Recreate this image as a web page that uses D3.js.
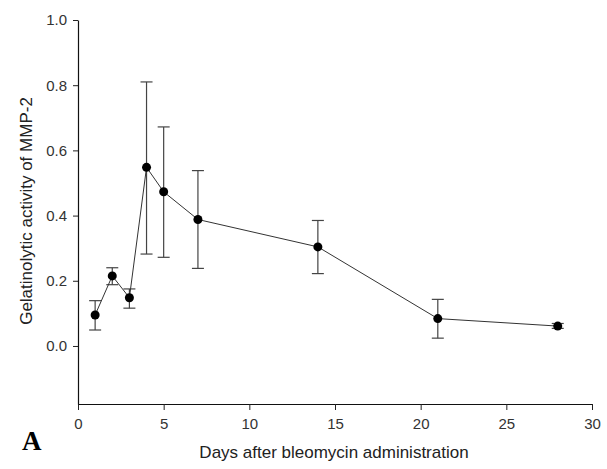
<!DOCTYPE html>
<html>
<head>
<meta charset="utf-8">
<script src="https://cdn.jsdelivr.net/npm/d3@7"></script>
<style>
  body { margin: 0; background: #fff; }
  text { font-family: "Liberation Sans", Arial, sans-serif; }
</style>
</head>
<body>
<svg id="chart" width="607" height="469"></svg>
<script>
const days = [1, 2, 3, 4, 5, 7, 14, 21, 28];
const activity = [0.095, 0.215, 0.148, 0.548, 0.473, 0.388, 0.304, 0.084, 0.061];
const errHigh = [0.139, 0.240, 0.175, 0.810, 0.672, 0.538, 0.385, 0.143, 0.069];
const errLow = [0.049, 0.188, 0.116, 0.282, 0.272, 0.238, 0.222, 0.024, 0.054];
const xTicks = [0, 5, 10, 15, 20, 25, 30];
const yTicks = [0.0, 0.2, 0.4, 0.6, 0.8, 1.0];

const svg = d3.select("#chart");

const x = d3.scaleLinear().domain([0, 30]).range([78, 592]);
const y = d3.scaleLinear().domain([-0.178, 1.0]).range([404, 20]);

const points = days.map((d, i) => ({
  day: d, value: activity[i], hi: errHigh[i], lo: errLow[i]
}));

// axes
const xAxis = svg.append("g")
  .attr("transform", `translate(0,${y(-0.178)})`)
  .call(d3.axisBottom(x).tickValues(xTicks).tickSize(6).tickSizeOuter(0).tickPadding(8));
const yAxis = svg.append("g")
  .attr("transform", `translate(${x(0)},0)`)
  .call(d3.axisLeft(y).tickValues(yTicks).tickFormat(d3.format(".1f")).tickSize(5).tickSizeOuter(0).tickPadding(6));

[xAxis, yAxis].forEach(g => {
  g.select(".domain").attr("stroke", "#111").attr("stroke-width", 1.2);
  g.selectAll(".tick line").attr("stroke", "#222");
  g.selectAll(".tick text").attr("fill", "#333").style("font-size", "15px");
});

// error bars
const capHalf = 6;
const bars = svg.append("g").attr("stroke", "#444").attr("stroke-width", 1.2);
bars.selectAll(".stem").data(points).join("line")
  .attr("x1", d => x(d.day)).attr("x2", d => x(d.day))
  .attr("y1", d => y(d.hi)).attr("y2", d => y(d.lo));
bars.selectAll(".capHi").data(points).join("line")
  .attr("x1", d => x(d.day) - capHalf).attr("x2", d => x(d.day) + capHalf)
  .attr("y1", d => y(d.hi)).attr("y2", d => y(d.hi));
bars.selectAll(".capLo").data(points).join("line")
  .attr("x1", d => x(d.day) - capHalf).attr("x2", d => x(d.day) + capHalf)
  .attr("y1", d => y(d.lo)).attr("y2", d => y(d.lo));

// line
const line = d3.line().x(d => x(d.day)).y(d => y(d.value));
svg.append("path")
  .datum(points)
  .attr("fill", "none")
  .attr("stroke", "#333")
  .attr("stroke-width", 1)
  .attr("d", line);

// markers
svg.append("g").selectAll("circle").data(points).join("circle")
  .attr("cx", d => x(d.day))
  .attr("cy", d => y(d.value))
  .attr("r", 4.5)
  .attr("fill", "#000");

// titles
svg.append("text")
  .attr("x", 334).attr("y", 458)
  .attr("text-anchor", "middle")
  .attr("fill", "#222")
  .style("font-size", "17px")
  .text("Days after bleomycin administration");

svg.append("text")
  .attr("transform", `translate(32,211) rotate(-90)`)
  .attr("text-anchor", "middle")
  .attr("fill", "#222")
  .style("font-size", "17px")
  .text("Gelatinolytic activity of MMP-2");

svg.append("text")
  .attr("x", 22).attr("y", 450)
  .style("font-family", "'Liberation Serif', 'Times New Roman', serif")
  .style("font-weight", "bold")
  .style("font-size", "27px")
  .text("A");
</script>
</body>
</html>
